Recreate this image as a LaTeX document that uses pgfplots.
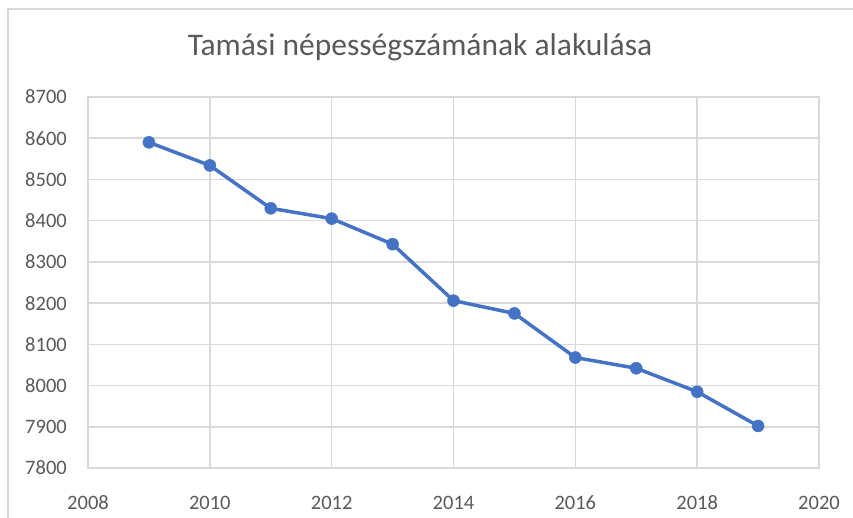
\documentclass[border=0pt]{standalone}
\usepackage{pgfplots}
\pgfplotsset{compat=1.18}
\usepackage{fontspec}
\setmainfont{Carlito}
\definecolor{txt}{HTML}{595959}
\definecolor{gridc}{HTML}{D9D9D9}
\definecolor{linec}{HTML}{4472C4}
\begin{document}
\begin{tikzpicture}
\useasboundingbox (0,0) rectangle (853pt,-517pt);
\draw[color=gridc, line width=1.5pt] (8pt,-530pt) -- (8pt,-9pt) -- (870pt,-9pt);
\node[anchor=base, text=txt, font=\fontsize{31.5}{36}\selectfont] at (420pt,-55pt) {Tamási népességszámának alakulása};
\begin{axis}[
  at={(88pt,-468pt)}, anchor=south west,
  scale only axis, width=731pt, height=371pt,
  xmin=2008, xmax=2020, ymin=7800, ymax=8700,
  xtick={2008,2010,...,2020}, ytick={7800,7900,...,8700},
  grid=major,
  major grid style={draw=gridc, line width=1.6pt},
  axis line style={draw=gridc, line width=1.8pt},
  tick style={draw=none},
  /pgf/number format/assume math mode=true,
  /pgf/number format/set thousands separator={},
  ticklabel style={font=\fontsize{20.5}{24}\selectfont, text=txt, inner sep=0pt},
  xticklabel style={anchor=center, yshift=-35pt},
  yticklabel style={anchor=east, xshift=-21pt},
]
\addplot[color=linec, line width=3.5pt, mark=*, mark size=6pt, mark options={fill=linec, draw=linec, line width=0.5pt}]
coordinates {
(2009,8590) (2010,8534) (2011,8430) (2012,8405) (2013,8343) (2014,8206)
(2015,8175) (2016,8068) (2017,8042) (2018,7985) (2019,7902)
};
\end{axis}
\end{tikzpicture}
\end{document}
